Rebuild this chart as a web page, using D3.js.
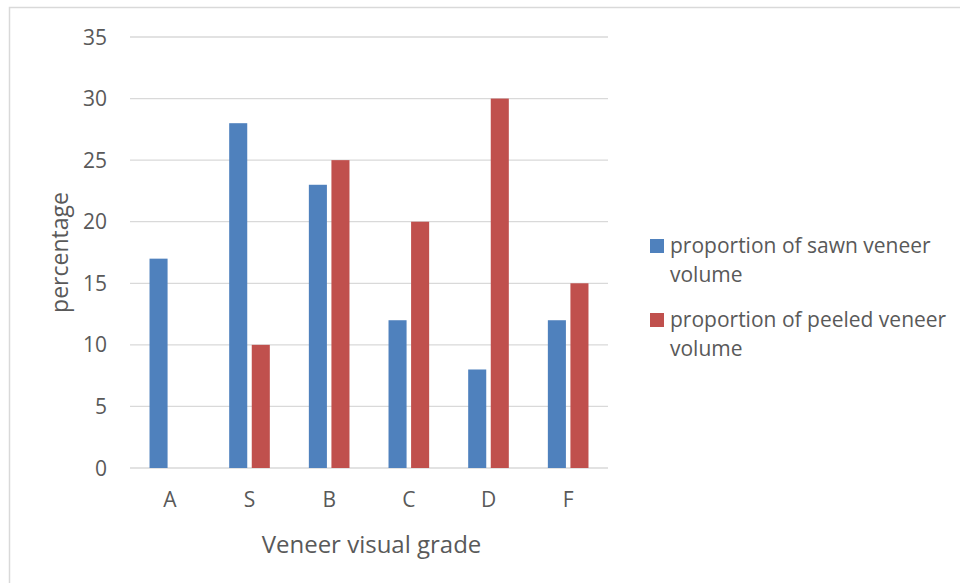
<!DOCTYPE html>
<html>
<head>
<meta charset="utf-8">
<script src="https://cdn.jsdelivr.net/npm/d3@7"></script>
<style>
  html, body { margin: 0; padding: 0; background: #fff; }
  svg { display: block; }
  text { font-family: "Open Sans", "Noto Sans", sans-serif; fill: #595959; }
</style>
</head>
<body>
<svg id="chart" width="960" height="583"></svg>
<script>
const categories = ["A", "S", "B", "C", "D", "F"];
const seriesNames = ["proportion of sawn veneer volume", "proportion of peeled veneer volume"];
const sawnValues = [17, 28, 23, 12, 8, 12];
const peeledValues = [0, 10, 25, 20, 30, 15];
const yTicks = [0, 5, 10, 15, 20, 25, 30, 35];
const colors = ["#4F81BD", "#C0504D"];
const xTitle = "Veneer visual grade";
const yTitle = "percentage";
const legendLines = [["proportion of sawn veneer", "volume"], ["proportion of peeled veneer", "volume"]];

const svg = d3.select("#chart");

// outer border
svg.append("rect")
  .attr("x", 9.5).attr("y", 7.5)
  .attr("width", 1000).attr("height", 1000)
  .attr("fill", "none").attr("stroke", "#d9d9d9").attr("stroke-width", 1.5);

const plot = { left: 130, right: 608, top: 37, bottom: 468 };

const x0 = d3.scaleBand().domain(categories).range([plot.left, plot.right]).paddingInner(0).paddingOuter(0);
const bw = x0.bandwidth();
const x1 = d3.scaleBand().domain([0, 1]).range([bw * 0.245, bw * 0.755]).paddingInner(0.2);
const y = d3.scaleLinear().domain([0, 35]).range([plot.bottom, plot.top]);

// gridlines
svg.append("g").selectAll("line").data(yTicks).join("line")
  .attr("x1", plot.left).attr("x2", plot.right)
  .attr("y1", d => y(d)).attr("y2", d => y(d))
  .attr("stroke", "#d9d9d9").attr("stroke-width", 1.3);

// y tick labels
svg.append("g").selectAll("text").data(yTicks).join("text")
  .attr("x", 107).attr("y", d => y(d))
  .attr("dy", "0.36em")
  .attr("text-anchor", "end")
  .style("font-size", "21px")
  .text(d => d);

// bars
const data = categories.map((c, i) => ({ cat: c, vals: [sawnValues[i], peeledValues[i]] }));
const groups = svg.append("g").selectAll("g").data(data).join("g")
  .attr("transform", d => `translate(${x0(d.cat)},0)`);
groups.selectAll("rect").data(d => d.vals.map((v, k) => ({ v, k }))).join("rect")
  .attr("x", d => x1(d.k))
  .attr("width", x1.bandwidth())
  .attr("y", d => y(d.v))
  .attr("height", d => y(0) - y(d.v))
  .attr("fill", d => colors[d.k]);

// category labels
svg.append("g").selectAll("text").data(categories).join("text")
  .attr("x", d => x0(d) + bw / 2)
  .attr("y", 507)
  .attr("text-anchor", "middle")
  .style("font-size", "21px")
  .text(d => d);

// axis titles
svg.append("text")
  .attr("x", 371.5)
  .attr("y", 553)
  .attr("text-anchor", "middle")
  .style("font-size", "24px")
  .text(xTitle);

svg.append("text")
  .attr("transform", `translate(68,252.5) rotate(-90)`)
  .attr("text-anchor", "middle")
  .style("font-size", "23px")
  .text(yTitle);

// legend
const legend = svg.append("g");
const legendY = [253, 327];
legendLines.forEach((lines, k) => {
  legend.append("rect")
    .attr("x", 650).attr("y", legendY[k] - 14)
    .attr("width", 14).attr("height", 14)
    .attr("fill", colors[k]);
  const t = legend.append("text")
    .attr("x", 670).attr("y", legendY[k])
    .style("font-size", "21px");
  lines.forEach((ln, j) => {
    t.append("tspan").attr("x", 670).attr("dy", j === 0 ? 0 : 28.5).text(ln);
  });
});
</script>
</body>
</html>
